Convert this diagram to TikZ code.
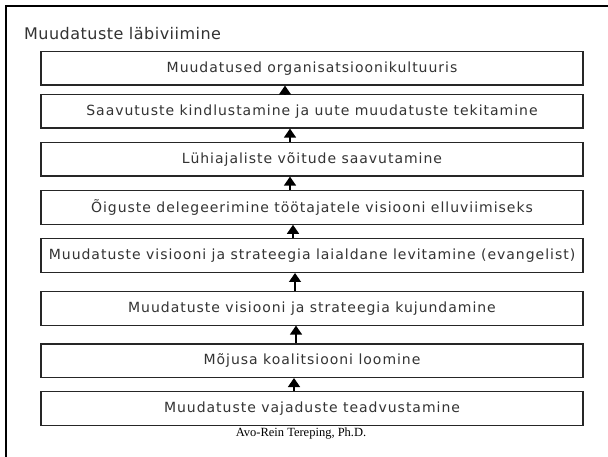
\documentclass[tikz,border=0pt]{standalone}
\usepackage{fontspec}
\setmainfont{DejaVu Sans}
\newfontfamily\seriffont{Liberation Serif}
\newfontfamily\boxfont[LetterSpace=7]{DejaVu Sans}
\newfontfamily\titlefont[LetterSpace=3]{DejaVu Sans}
\usetikzlibrary{arrows.meta}
\definecolor{txt}{gray}{0.2}
\begin{document}
\begin{tikzpicture}[x=1pt,y=-1pt,
  stagebox/.style={draw=black!85, line width=1.1pt, minimum width=542pt, minimum height=33.5pt,
    inner sep=0pt, text=txt, font=\boxfont\fontsize{14}{16}\selectfont},
  uparrow/.style={draw=black, line width=1.4pt, -{Triangle[width=12pt,length=9pt]}}]
\useasboundingbox (0,0) rectangle (608,457);
\fill[white] (0,0) rectangle (608,457);
\draw[line width=2.3pt, black] (6.2,457) -- (6.2,6.2) -- (608,6.2);
\node[anchor=base west, inner sep=0pt, text=txt, font=\titlefont\fontsize{16}{18}\selectfont] (title) at (24,40) {Muudatuste läbiviimine};
\node[stagebox] (b1) at (312,68.3) {Muudatused organisatsioonikultuuris};
\node[stagebox] (b2) at (312,111.3) {Saavutuste kindlustamine ja uute muudatuste tekitamine};
\node[stagebox] (b3) at (312,159.3) {Lühiajaliste võitude saavutamine};
\node[stagebox] (b4) at (312,207.5) {Õiguste delegeerimine töötajatele visiooni elluviimiseks};
\node[stagebox] (b5) at (312,255.7) {Muudatuste visiooni ja strateegia laialdane levitamine (evangelist)};
\node[stagebox] (b6) at (312,308.3) {Muudatuste visiooni ja strateegia kujundamine};
\node[stagebox] (b7) at (312,360.7) {Mõjusa koalitsiooni loomine};
\node[stagebox] (b8) at (312,408.3) {Muudatuste vajaduste teadvustamine};
\draw[uparrow] ([xshift=-27pt]b2.north) -- ([xshift=-27pt]b1.south);
\draw[uparrow] ([xshift=-22pt]b3.north) -- ([xshift=-22pt]b2.south);
\draw[uparrow] ([xshift=-22pt]b4.north) -- ([xshift=-22pt]b3.south);
\draw[uparrow] ([xshift=-19pt]b5.north) -- ([xshift=-19pt]b4.south);
\draw[uparrow] ([xshift=-17pt]b6.north) -- ([xshift=-17pt]b5.south);
\draw[uparrow] ([xshift=-16pt]b7.north) -- ([xshift=-16pt]b6.south);
\draw[uparrow] ([xshift=-18pt]b8.north) -- ([xshift=-18pt]b7.south);
\node[font=\seriffont\fontsize{12.5}{14}\selectfont, text=black] (author) at (301,434) {Avo-Rein Tereping, Ph.D.};
\end{tikzpicture}
\end{document}
